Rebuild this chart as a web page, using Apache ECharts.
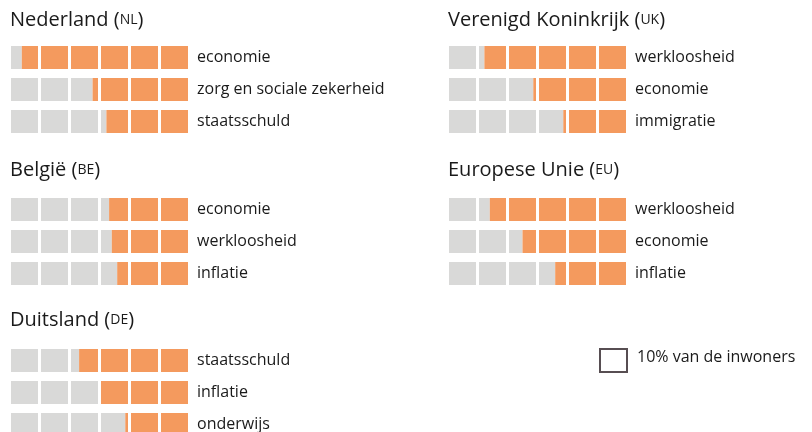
<!DOCTYPE html>
<html>
<head>
<meta charset="utf-8">
<script src="https://cdn.jsdelivr.net/npm/echarts@6/dist/echarts.min.js"></script>
<style>
  html, body { margin: 0; padding: 0; background: #fff; }
  #chart { width: 812px; height: 432px; }
</style>
</head>
<body>
<div id="chart"></div>
<script>
// data per panel (share of inhabitants naming the topic, in %)
const countries = ['Nederland', 'Verenigd Koninkrijk', 'België', 'Europese Unie', 'Duitsland'];
const codes = ['NL', 'UK', 'BE', 'EU', 'DE'];
const topics = [
  ['economie', 'zorg en sociale zekerheid', 'staatsschuld'],
  ['werkloosheid', 'economie', 'immigratie'],
  ['economie', 'werkloosheid', 'inflatie'],
  ['werkloosheid', 'economie', 'inflatie'],
  ['staatsschuld', 'inflatie', 'onderwijs']
];
const shares = [
  [56, 32, 28],
  [48, 31, 21],
  [27, 26, 24],
  [46, 35, 24],
  [37, 30, 21]
];
const scaleMax = 60;
const blockSize = 10;
const legendText = '10% van de inwoners';

const ORANGE = '#f49a5e';
const GRAY = '#d9d9d8';
const TEXT = '#1a1a1a';
const FONT = '"Open Sans", "Noto Sans", sans-serif';

// panel placement
const panelLeft = [11, 449, 11, 449, 11];
const panelTop = [41.5, 41.5, 193.5, 193.5, 344.5];
const titleTop = [10, 10, 160, 160, 310];

const chart = echarts.init(document.getElementById('chart'));

function renderBlocks(params, api) {
  const row = api.value(0);
  const val = api.value(1);
  const grayEnd = scaleMax - val;
  const h = api.size([0, 1])[1] * 0.72;
  const children = [];
  for (let a = 0; a < scaleMax; a += blockSize) {
    const p0 = api.coord([a, row]);
    const p1 = api.coord([a + blockSize, row]);
    const w = p1[0] - p0[0] - 3;
    const y = p0[1] - h / 2;
    const g = Math.max(0, Math.min(1, (grayEnd - a) / blockSize));
    if (g > 0) {
      children.push({ type: 'rect', shape: { x: p0[0], y: y, width: w * g, height: h }, style: { fill: GRAY } });
    }
    if (g < 1) {
      children.push({ type: 'rect', shape: { x: p0[0] + w * g, y: y, width: w * (1 - g), height: h }, style: { fill: ORANGE } });
    }
  }
  return { type: 'group', children: children };
}

const grids = [], xAxes = [], yAxes = [], series = [], titles = [];
countries.forEach((name, i) => {
  grids.push({ left: panelLeft[i], top: panelTop[i], width: 180, height: 96, outerBoundsMode: 'none' });
  xAxes.push({ gridIndex: i, type: 'value', min: 0, max: scaleMax, show: false });
  yAxes.push({
    gridIndex: i, type: 'category', data: topics[i], inverse: true, position: 'right',
    axisLine: { show: false }, axisTick: { show: false }, splitLine: { show: false },
    axisLabel: { margin: 6, color: TEXT, fontSize: 16, fontFamily: FONT, align: 'left' }
  });
  series.push({
    type: 'custom', xAxisIndex: i, yAxisIndex: i,
    renderItem: renderBlocks,
    encode: { x: 1, y: 0 },
    data: topics[i].map((t, j) => [t, shares[i][j]]),
    silent: true
  });
  titles.push({
    text: name + ' ({sc|' + codes[i] + '})',
    left: panelLeft[i] - 1, top: titleTop[i], padding: 0,
    textStyle: {
      fontSize: 20, fontWeight: 'normal', color: TEXT, fontFamily: FONT,
      rich: { sc: { fontSize: 14, color: TEXT, fontFamily: FONT } }
    }
  });
});

chart.setOption({
  animation: false,
  title: titles,
  grid: grids,
  xAxis: xAxes,
  yAxis: yAxes,
  series: series,
  graphic: [
    { type: 'rect', left: 599, top: 348, shape: { width: 27, height: 23 }, style: { fill: '#fff', stroke: '#574e52', lineWidth: 2 } },
    { type: 'text', left: 637, top: 349, style: { text: legendText, fontSize: 16, fill: TEXT, fontFamily: FONT } }
  ]
});
</script>
</body>
</html>
